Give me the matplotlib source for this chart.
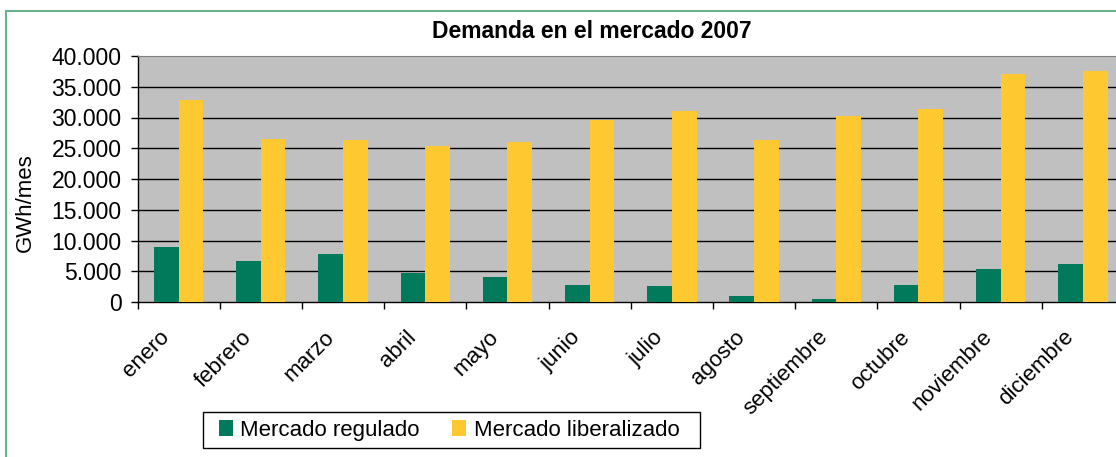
import matplotlib
matplotlib.use("Agg")
import matplotlib.pyplot as plt
from matplotlib.patches import Rectangle
from matplotlib.ticker import FuncFormatter
from matplotlib.transforms import ScaledTranslation, blended_transform_factory
import numpy as np

months = ["enero", "febrero", "marzo", "abril", "mayo", "junio", "julio",
          "agosto", "septiembre", "octubre", "noviembre", "diciembre"]
regulado = [8950, 6600, 7800, 4700, 4000, 2800, 2600, 900, 450, 2800, 5400, 6100]
liberalizado = [32900, 26500, 26300, 25300, 26000, 29600, 31000, 26300, 30300, 31400, 37100, 37600]
yticks = [0, 5000, 10000, 15000, 20000, 25000, 30000, 35000, 40000]

plt.rcParams['font.family'] = ['Liberation Sans', 'DejaVu Sans']

W, H = 1116, 457
fig = plt.figure(figsize=(W / 100, H / 100), dpi=100)

# outer green frame
fig.patches.append(Rectangle((6 / W, -0.01), 1.2, (H - 11) / H + 0.01,
                             transform=fig.transFigure, fill=False,
                             edgecolor="#66B28C", linewidth=1.5))

left, right = 137.5, 1124
top, bottom = 56, 302
ax = fig.add_axes([left / W, 1 - bottom / H, (right - left) / W, (bottom - top) / H])
ax.set_facecolor("#C0C0C0")

x = np.arange(len(months))
bw = 0.3
ax.bar(x - bw / 2, regulado, width=bw, color="#007A5A", label="Mercado regulado", zorder=3)
ax.bar(x + bw / 2, liberalizado, width=bw, color="#FDC830", label="Mercado liberalizado", zorder=3)

ax.set_xlim(-0.5, len(months) - 0.5)
ax.set_ylim(0, 40000)
ax.set_yticks(yticks)
ax.yaxis.set_major_formatter(FuncFormatter(lambda v, p: f"{int(v):,}".replace(",", ".")))
ax.tick_params(axis="y", labelsize=16.5, length=5, width=1, direction="out", pad=6.5)
for yv in yticks[1:-1]:
    ax.axhline(yv, color="black", linewidth=1, zorder=1)

ax.set_xticks(np.arange(len(months) + 1) - 0.5)
ax.set_xticklabels([])
ax.tick_params(axis="x", which="major", length=5, width=1, direction="out")

trans = blended_transform_factory(ax.transData, ax.transAxes) + \
    ScaledTranslation(-8 / 100, -36 / 100, fig.dpi_scale_trans)
for xi, m in zip(x, months):
    ax.text(xi, 0, m, transform=trans, rotation=45, rotation_mode="anchor",
            ha="right", va="baseline", fontsize=16, clip_on=False)

for s in ["left", "bottom"]:
    ax.spines[s].set_color("black")
    ax.spines[s].set_linewidth(1)
ax.spines["top"].set_color("#808080")
ax.spines["right"].set_visible(False)

fig.text(25 / W, 1 - 203 / H, "GWh/mes", rotation=90, ha="center", va="center", fontsize=16)
fig.text(591.5 / W, 1 - 32 / H, "Demanda en el mercado 2007", ha="center", va="center",
         fontsize=16.5, fontweight="bold")

# legend frame
fig.patches.append(Rectangle((202.5 / W, 1 - 448 / H), (700 - 202.5) / W, 36 / H,
                             transform=fig.transFigure, facecolor="white",
                             edgecolor="black", linewidth=1))
leg = fig.legend(loc="center left", bbox_to_anchor=(218.7 / W, 1 - 430.5 / H), ncol=2,
                 fontsize=16, frameon=False,
                 handlelength=0.63, handleheight=0.7, handletextpad=0.35,
                 columnspacing=1.44, borderpad=0, borderaxespad=0)

fig.savefig("out.png", dpi=100)
